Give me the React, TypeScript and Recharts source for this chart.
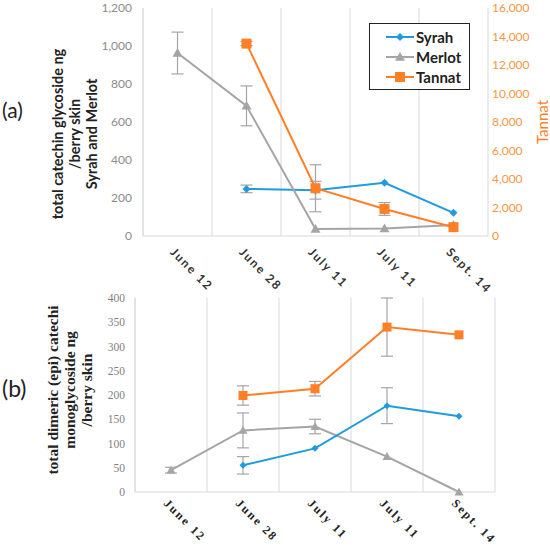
import React from 'react';
import { LineChart, Line, XAxis, YAxis, CartesianGrid, ErrorBar, Legend, Label } from 'recharts';

const dates = ['June 12', 'June 28', 'July 11', 'July 11', 'Sept. 14'];

// (a) total catechin glycoside, ng / berry skin (Syrah, Merlot on left axis, Tannat on right)
const syrahA = [null, 248, 241, 280, 122];
const syrahAErr = [null, 20, 47, null, null];
const merlotA = [963, 685, 37, 40, 58];
const merlotAErr = [110, 105, null, null, null];
const tannatA = [null, 13500, 3350, 1900, 620];
const tannatAErr = [null, 150, 1650, 450, null];

// (b) total dimeric (epi)catechin monoglycoside, ng / berry skin
const syrahB = [null, 55, 90, 178, 156];
const syrahBErr = [null, 18, null, 37, null];
const merlotB = [45, 127, 135, 73, 0];
const merlotBErr = [6, 36, 15, null, null];
const tannatB = [null, 199, 213, 340, 324];
const tannatBErr = [null, 20, 15, 60, null];

const leftTicksA = [0, 200, 400, 600, 800, 1000, 1200];
const rightTicksA = [0, 2000, 4000, 6000, 8000, 10000, 12000, 14000, 16000];
const ticksB = [0, 50, 100, 150, 200, 250, 300, 350, 400];

const BLUE = '#1F9BDE';
const GRAY = '#A5A5A5';
const ORANGE = '#FF7F27';
const GRID = '#D9D9D9';
const SANS = 'Lato, "Open Sans", sans-serif';
const SERIF = '"Liberation Serif", "DejaVu Serif", serif';

const slots = dates.map((_, i) => i);

const dataA = dates.map((d, i) => ({
  slot: i,
  date: d,
  syrah: syrahA[i],
  syrahErr: syrahAErr[i],
  merlot: merlotA[i],
  merlotErr: merlotAErr[i],
  tannat: tannatA[i],
  tannatErr: tannatAErr[i],
}));

const dataB = dates.map((d, i) => ({
  slot: i,
  date: d,
  syrah: syrahB[i],
  syrahErr: syrahBErr[i],
  merlot: merlotB[i],
  merlotErr: merlotBErr[i],
  tannat: tannatB[i],
  tannatErr: tannatBErr[i],
}));

const fmt = (v: number) => v.toLocaleString('en-US');

type Shape = 'diamond' | 'triangle' | 'square';

const Marker = ({ shape, cx, cy, color, s }: { shape: Shape; cx: number; cy: number; color: string; s: number }) => {
  if (shape === 'diamond') {
    return <polygon points={`${cx},${cy - s} ${cx + s},${cy} ${cx},${cy + s} ${cx - s},${cy}`} fill={color} />;
  }
  if (shape === 'triangle') {
    return <polygon points={`${cx},${cy - s} ${cx + s},${cy + s * 0.75} ${cx - s},${cy + s * 0.75}`} fill={color} />;
  }
  return <rect x={cx - s} y={cy - s} width={s * 2} height={s * 2} fill={color} />;
};

const makeDot = (shape: Shape, color: string, s: number) => (props: any) => {
  const { cx, cy, value, index } = props;
  if (value == null || cx == null || cy == null) return <g key={`e-${index}`} />;
  return (
    <g key={`d-${index}`}>
      <Marker shape={shape} cx={cx} cy={cy} color={color} s={s} />
    </g>
  );
};

// gridlines sit between the sampling dates, not on them
const boundaries = ({ offset }: any) => slots.concat([slots.length]).map((i) => offset.left + (i * offset.width) / slots.length);

const SlantTick = ({ x, y, payload, font, size, spacing, color, dy }: any) => {
  const ax = x - 8;
  const ay = y + dy;
  return (
    <text
      x={ax}
      y={ay}
      transform={`rotate(45 ${ax} ${ay})`}
      textAnchor="start"
      fontFamily={font}
      fontSize={size}
      fontWeight="bold"
      letterSpacing={spacing}
      fill={color}
    >
      {dates[payload.value]}
    </text>
  );
};

const series = [
  { name: 'Syrah', color: BLUE, shape: 'diamond' as Shape, s: 4 },
  { name: 'Merlot', color: GRAY, shape: 'triangle' as Shape, s: 5 },
  { name: 'Tannat', color: ORANGE, shape: 'square' as Shape, s: 5 },
];

const LegendBox = () => (
  <div
    style={{
      border: '1.5px solid #222',
      background: '#fff',
      padding: '3px 6px 3px 16px',
      fontFamily: SANS,
      fontWeight: 'bold',
      fontSize: 15,
      color: '#222',
      boxSizing: 'border-box',
      width: 101,
      height: 67,
    }}
  >
    {series.map((s) => (
      <div key={s.name} style={{ display: 'flex', alignItems: 'center', height: 20 }}>
        <svg width={28} height={14} style={{ marginRight: 2 }}>
          <line x1={0} y1={7} x2={28} y2={7} stroke={s.color} strokeWidth={2} />
          <Marker shape={s.shape} cx={14} cy={7} color={s.color} s={s.s} />
        </svg>
        <span>{s.name}</span>
      </div>
    ))}
  </div>
);

const TitleA = ({ viewBox }: any) => {
  const { x, y, height } = viewBox;
  const cy = y + height / 2 + 12;
  return (
    <g>
      <text x={x + 2} y={y + 110} fontFamily={SANS} fontSize={21} fill="#222">
        (a)
      </text>
      <text
        transform={`translate(${x + 63},${cy}) rotate(-90)`}
        textAnchor="middle"
        fontFamily={SANS}
        fontWeight="bold"
        fontSize={14.5}
        fill="#222"
      >
        <tspan x={0} dy={0}>total catechin glycoside ng</tspan>
        <tspan x={0} dy={17}>/berry skin</tspan>
        <tspan x={0} dy={17}>Syrah and Merlot</tspan>
      </text>
    </g>
  );
};

const TitleTannat = ({ viewBox }: any) => {
  const { x, y, height } = viewBox;
  return (
    <text
      transform={`translate(${x + 60},${y + height / 2}) rotate(-90)`}
      textAnchor="middle"
      fontFamily={SANS}
      fontSize={15}
      fill={ORANGE}
    >
      Tannat
    </text>
  );
};

const TitleB = ({ viewBox }: any) => {
  const { x, y, height } = viewBox;
  const cy = y + height / 2 - 5;
  return (
    <g>
      <text x={x + 2} y={y + 99} fontFamily={SANS} fontSize={23} fill="#222">
        (b)
      </text>
      <text
        transform={`translate(${x + 58},${cy}) rotate(-90)`}
        textAnchor="middle"
        fontFamily={SERIF}
        fontWeight="bold"
        fontSize={15.5}
        fill="#222"
      >
        <tspan x={0} dy={0}>total dimeric (epi) catechi</tspan>
        <tspan x={0} dy={17}>monoglycoside ng</tspan>
        <tspan x={0} dy={17}>/berry skin</tspan>
      </text>
    </g>
  );
};

export default function App() {
  return (
    <div style={{ position: 'absolute', left: 0, top: 0, width: 550, height: 546, background: '#fff' }}>
      <div style={{ position: 'absolute', left: 0, top: 0 }}>
        <LineChart width={550} height={300} data={dataA} margin={{ top: 8, right: 0, bottom: 0, left: 0 }}>
          <CartesianGrid horizontal={false} stroke={GRID} verticalCoordinatesGenerator={boundaries} />
          <XAxis
            dataKey="slot"
            type="number"
            domain={[-0.5, 4.5]}
            ticks={slots}
            interval={0}
            height={64}
            tickLine={false}
            tickSize={0}
            tickMargin={0}
            axisLine={{ stroke: GRID }}
            tick={<SlantTick font={SANS} size={12} spacing={1.8} color="#333" dy={17} />}
          />
          <YAxis
            yAxisId="left"
            width={143}
            domain={[0, 1200]}
            ticks={leftTicksA}
            tickFormatter={fmt}
            tickLine={false}
            tickSize={0}
            tickMargin={11}
            axisLine={{ stroke: GRID }}
            tick={{ fill: '#8C8C8C', fontSize: 12, fontFamily: SANS }}
          >
            <Label content={TitleA} />
          </YAxis>
          <YAxis
            yAxisId="right"
            orientation="right"
            width={62}
            domain={[0, 16000]}
            ticks={rightTicksA}
            tickFormatter={fmt}
            tickLine={false}
            tickSize={0}
            tickMargin={4}
            axisLine={false}
            tick={{ fill: '#F79646', fontSize: 12, fontFamily: SANS, textAnchor: 'start' }}
          >
            <Label content={TitleTannat} />
          </YAxis>
          <Legend
            layout="horizontal"
            verticalAlign="middle"
            align="center"
            wrapperStyle={{ left: 369, top: 23, width: 101, height: 67 }}
            content={() => <LegendBox />}
          />
          <Line yAxisId="left" dataKey="syrah" stroke={BLUE} strokeWidth={2} dot={makeDot('diamond', BLUE, 4)} activeDot={false} isAnimationActive={false}>
            <ErrorBar dataKey="syrahErr" width={6} stroke={GRAY} strokeWidth={1.2} direction="y" />
          </Line>
          <Line yAxisId="left" dataKey="merlot" stroke={GRAY} strokeWidth={2} dot={makeDot('triangle', GRAY, 5)} activeDot={false} isAnimationActive={false}>
            <ErrorBar dataKey="merlotErr" width={6} stroke={GRAY} strokeWidth={1.2} direction="y" />
          </Line>
          <Line yAxisId="right" dataKey="tannat" stroke={ORANGE} strokeWidth={2} dot={makeDot('square', ORANGE, 5)} activeDot={false} isAnimationActive={false}>
            <ErrorBar dataKey="tannatErr" width={6} stroke={GRAY} strokeWidth={1.2} direction="y" />
          </Line>
        </LineChart>
      </div>
      <div style={{ position: 'absolute', left: 0, top: 285 }}>
        <LineChart width={550} height={261} data={dataB} margin={{ top: 13, right: 55, bottom: 0, left: 0 }}>
          <CartesianGrid horizontal={false} stroke={GRID} verticalCoordinatesGenerator={boundaries} />
          <XAxis
            dataKey="slot"
            type="number"
            domain={[-0.5, 4.5]}
            ticks={slots}
            interval={0}
            height={54}
            tickLine={false}
            tickSize={0}
            tickMargin={0}
            axisLine={{ stroke: GRID }}
            tick={<SlantTick font={SERIF} size={12} spacing={2} color="#222" dy={12} />}
          />
          <YAxis
            width={135}
            domain={[0, 400]}
            ticks={ticksB}
            tickLine={false}
            tickSize={0}
            tickMargin={10}
            axisLine={{ stroke: GRID }}
            tick={{ fill: '#7F7F7F', fontSize: 11.5, fontFamily: SERIF }}
          >
            <Label content={TitleB} />
          </YAxis>
          <Line dataKey="tannat" stroke={ORANGE} strokeWidth={2} dot={makeDot('square', ORANGE, 4.5)} activeDot={false} isAnimationActive={false}>
            <ErrorBar dataKey="tannatErr" width={6} stroke={GRAY} strokeWidth={1.2} direction="y" />
          </Line>
          <Line dataKey="merlot" stroke={GRAY} strokeWidth={2} dot={makeDot('triangle', GRAY, 4.5)} activeDot={false} isAnimationActive={false}>
            <ErrorBar dataKey="merlotErr" width={6} stroke={GRAY} strokeWidth={1.2} direction="y" />
          </Line>
          <Line dataKey="syrah" stroke={BLUE} strokeWidth={2} dot={makeDot('diamond', BLUE, 3.5)} activeDot={false} isAnimationActive={false}>
            <ErrorBar dataKey="syrahErr" width={6} stroke={GRAY} strokeWidth={1.2} direction="y" />
          </Line>
        </LineChart>
      </div>
    </div>
  );
}
